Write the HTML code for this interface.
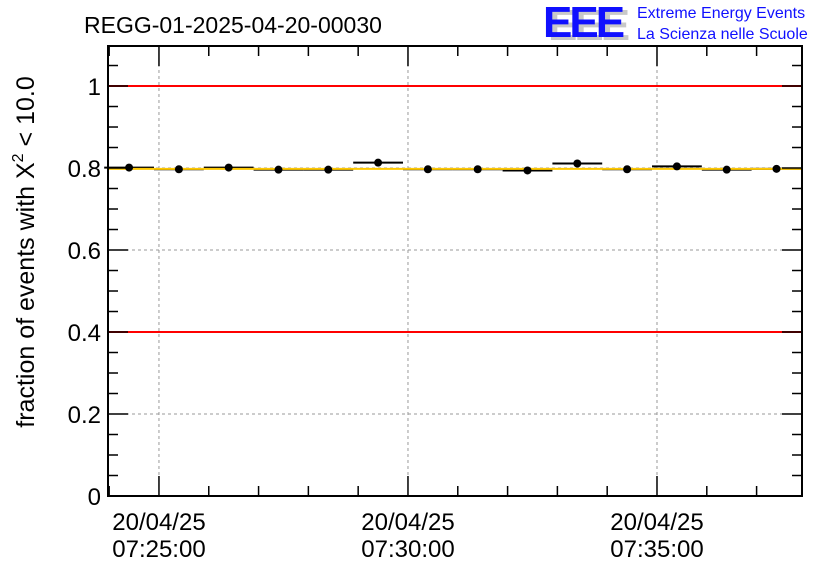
<!DOCTYPE html>
<html><head><meta charset="utf-8"><style>
body{margin:0;background:#fff;width:836px;height:572px;overflow:hidden;font-family:"Liberation Sans",sans-serif}
</style></head><body>
<svg id="chart" width="836" height="572" xmlns="http://www.w3.org/2000/svg" font-family="Liberation Sans, sans-serif">
<text x="84" y="33" font-size="23">REGG-01-2025-04-20-00030</text>
<g>
<text x="548" y="40" font-size="44" font-weight="bold" fill="#c8c8c8" letter-spacing="-3">EEE</text>
<text x="543" y="37" font-size="44" font-weight="bold" fill="#1010ff" letter-spacing="-3">EEE</text>
<text x="637" y="18" font-size="16" fill="#1010ff">Extreme Energy Events</text>
<text x="637" y="39" font-size="16" fill="#1010ff">La Scienza nelle Scuole</text>
</g>
<text transform="translate(34,252) rotate(-90)" text-anchor="middle" font-size="25">fraction of events with Χ<tspan dy="-11" font-size="16">2</tspan><tspan dy="11"> &lt; 10.0</tspan></text>
<g id="plot"></g>
</svg>
<script>
const times = [-36,24,84,144,204,264,324,384,444,504,564,624,684,744]; // seconds from 07:25:00
const values = [0.801,0.797,0.801,0.796,0.796,0.813,0.797,0.797,0.794,0.811,0.797,0.804,0.796,0.798];
const yTicks = [0,0.2,0.4,0.6,0.8,1];
const yTickLabels = ["0","0.2","0.4","0.6","0.8","1"];
const xTicks = [0,300,600];
const xTickDates = ["20/04/25","20/04/25","20/04/25"];
const xTickTimes = ["07:25:00","07:30:00","07:35:00"];
const redLines = [1.0,0.4];
const meanLine = 0.798;

const L=108,R=802,T=46,B=496;
const xMin=-61.4,xMax=774.7,yMin=0,yMax=1.0976;
const X=t=>L+(t-xMin)/(xMax-xMin)*(R-L);
const Y=v=>B-(v-yMin)/(yMax-yMin)*(B-T);
const ns="http://www.w3.org/2000/svg";
const g=document.getElementById('plot');
function mk(tag,a,p){const e=document.createElementNS(ns,tag);for(const k in a)e.setAttribute(k,a[k]);(p||g).appendChild(e);return e;}

xTicks.forEach(t=>{const e=mk('line',{x1:X(t),x2:X(t),y1:T,y2:B,stroke:'#999','stroke-dasharray':'3,3'});

});
yTicks.slice(1).forEach(v=>{const e=mk('line',{x1:L,x2:R,y1:Y(v),y2:Y(v),stroke:'#999','stroke-dasharray':'3,3'});

});
redLines.forEach(v=>{const e=mk('line',{x1:L,x2:R,y1:Y(v),y2:Y(v),stroke:'#f00','stroke-width':2});

});
times.forEach((t,i)=>{
 const b=mk('line',{x1:X(t-30),x2:X(t+30),y1:Y(values[i]),y2:Y(values[i]),stroke:'#000','stroke-width':2});
 
 
});
const m=mk('line',{x1:L,x2:R,y1:Y(meanLine),y2:Y(meanLine),stroke:'#ffc800','stroke-width':2});


times.forEach((t,i)=>{
 const c=mk('circle',{cx:X(t),cy:Y(values[i]),r:4,fill:'#000'});
 
 
});
const f=mk('rect',{x:L,y:T,width:R-L,height:B-T,fill:'none',stroke:'#000','stroke-width':2});


for(let t=-60;t<=xMax;t+=60){
 const maj=(t%300===0);const len=maj?20:10;
 mk('line',{x1:X(t),x2:X(t),y1:B,y2:B-len,stroke:'#000','stroke-width':1.5});
 mk('line',{x1:X(t),x2:X(t),y1:T,y2:T+len,stroke:'#000','stroke-width':1.5});
}
xTicks.forEach((t,i)=>{
 const a=mk('text',{x:X(t),y:530,'font-size':24,'text-anchor':'middle'});a.textContent=xTickDates[i];
 
 
 const b=mk('text',{x:X(t),y:557,'font-size':24,'text-anchor':'middle'});b.textContent=xTickTimes[i];
 
 
});
for(let v=0;v<=yMax+1e-9;v+=0.05){
 const maj=Math.abs(v*5-Math.round(v*5))<1e-6;const len=maj?20:10;
 mk('line',{x1:L,x2:L+len,y1:Y(v),y2:Y(v),stroke:'#000','stroke-width':1.5});
 mk('line',{x1:R,x2:R-len,y1:Y(v),y2:Y(v),stroke:'#000','stroke-width':1.5});
}
yTicks.forEach((v,i)=>{
 const a=mk('text',{x:101,y:Y(v)+9,'font-size':24,'text-anchor':'end'});a.textContent=yTickLabels[i];
 
 
});
</script>
</body></html>
